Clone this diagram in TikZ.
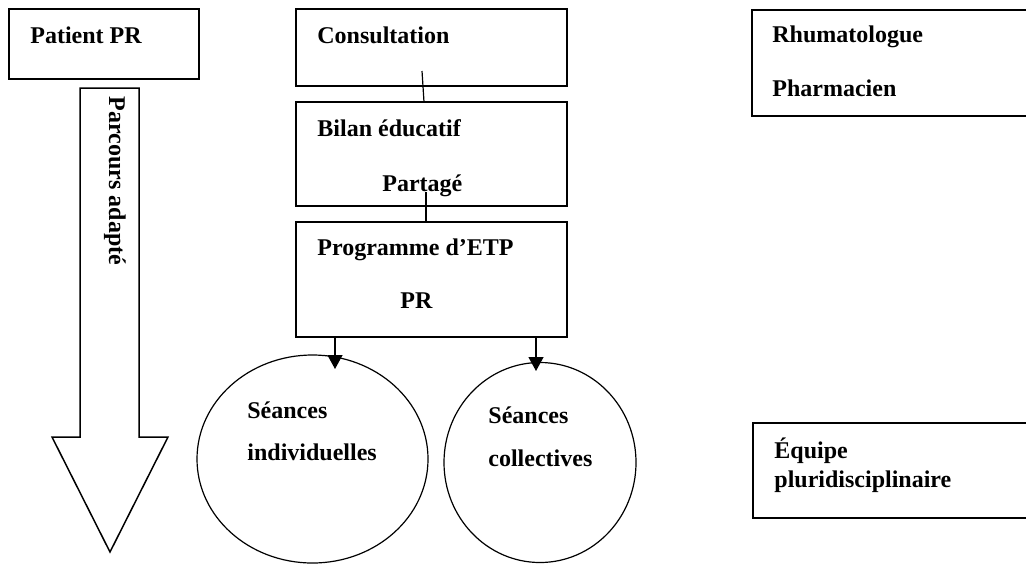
\documentclass[tikz,border=0pt]{standalone}
\usepackage{fontspec}
\setmainfont{Liberation Serif}
\usetikzlibrary{arrows.meta,shapes.geometric}
\begin{document}
\begin{tikzpicture}[x=0.5pt,y=-0.5pt,
  box/.style={draw,line width=0.75pt,rectangle,inner sep=0pt},
  oval/.style={draw,line width=0.6pt,ellipse,inner sep=0pt},
  lbl/.style={anchor=base west,inner sep=0pt,font=\bfseries\fontsize{12pt}{14pt}\selectfont},
  conn/.style={line width=0.6pt},
  arr/.style={line width=0.6pt,-{Triangle[length=7pt,width=7.5pt]}}]
\useasboundingbox (0,0) rectangle (1026,563);
\clip (0,0) rectangle (1026,563);
% boxes
\node[box,minimum width=95pt,minimum height=35pt] (patient) at (104,44) {};
\node[box,minimum width=135.5pt,minimum height=38.5pt] (consult) at (431.5,47.5) {};
\node[box,minimum width=135.5pt,minimum height=52pt] (bilan) at (431.5,154) {};
\node[box,minimum width=135.5pt,minimum height=57.5pt] (prog) at (431.5,279.5) {};
\node[box,minimum width=150pt,minimum height=53pt] (rhum) at (902,63) {};
\node[box,minimum width=150pt,minimum height=47.5pt] (equipe) at (903,470.5) {};
% ellipses
\node[oval,minimum width=115.5pt,minimum height=104pt] (indiv) at (312.5,459) {};
\node[oval,minimum width=96pt,minimum height=100pt] (coll) at (540,462.5) {};
% big arrow
\draw[line width=0.75pt,line join=miter] (80,88) -- (139,88) -- (139,437) -- (168,437) -- (110,552) -- (52,437) -- (80,437) -- cycle;
\node[lbl,anchor=base,rotate=-90] (parcours) at (109,181) {Parcours adapté};
% texts
\node[lbl] (tpatient) at (30,43) {Patient PR};
\node[lbl] (tconsult) at (317,43) {Consultation};
\node[lbl] (tbilan) at (317,136) {Bilan éducatif};
\node[lbl] (tpartage) at (382,191) {Partagé};
\node[lbl] (tprog) at (317,255) {Programme d’ETP};
\node[lbl] (tpr) at (400,308) {PR};
\node[lbl] (trhum) at (772,42) {Rhumatologue};
\node[lbl] (tpharm) at (772,96) {Pharmacien};
\node[lbl] (tequipe) at (774,458) {Équipe};
\node[lbl] (tpluri) at (774,487) {pluridisciplinaire};
\node[lbl] (tseance1) at (247,418) {Séances};
\node[lbl] (tindiv) at (247,460) {individuelles};
\node[lbl] (tseance2) at (488,423) {Séances};
\node[lbl] (tcoll) at (488,466) {collectives};
% connectors
\coordinate (c1) at (422,71);
\coordinate (c2) at (424,102);
\coordinate (c3) at (426,192);
\coordinate (a1) at (335,337);
\coordinate (a1e) at (335,369);
\coordinate (a2) at (536,337);
\coordinate (a2e) at (536,371);
\draw[conn] (c1) -- (c2);
\draw[conn] (c3) -- (c3 |- prog.north);
\draw[arr] (a1) -- (a1e);
\draw[arr] (a2) -- (a2e);
\end{tikzpicture}
\end{document}
